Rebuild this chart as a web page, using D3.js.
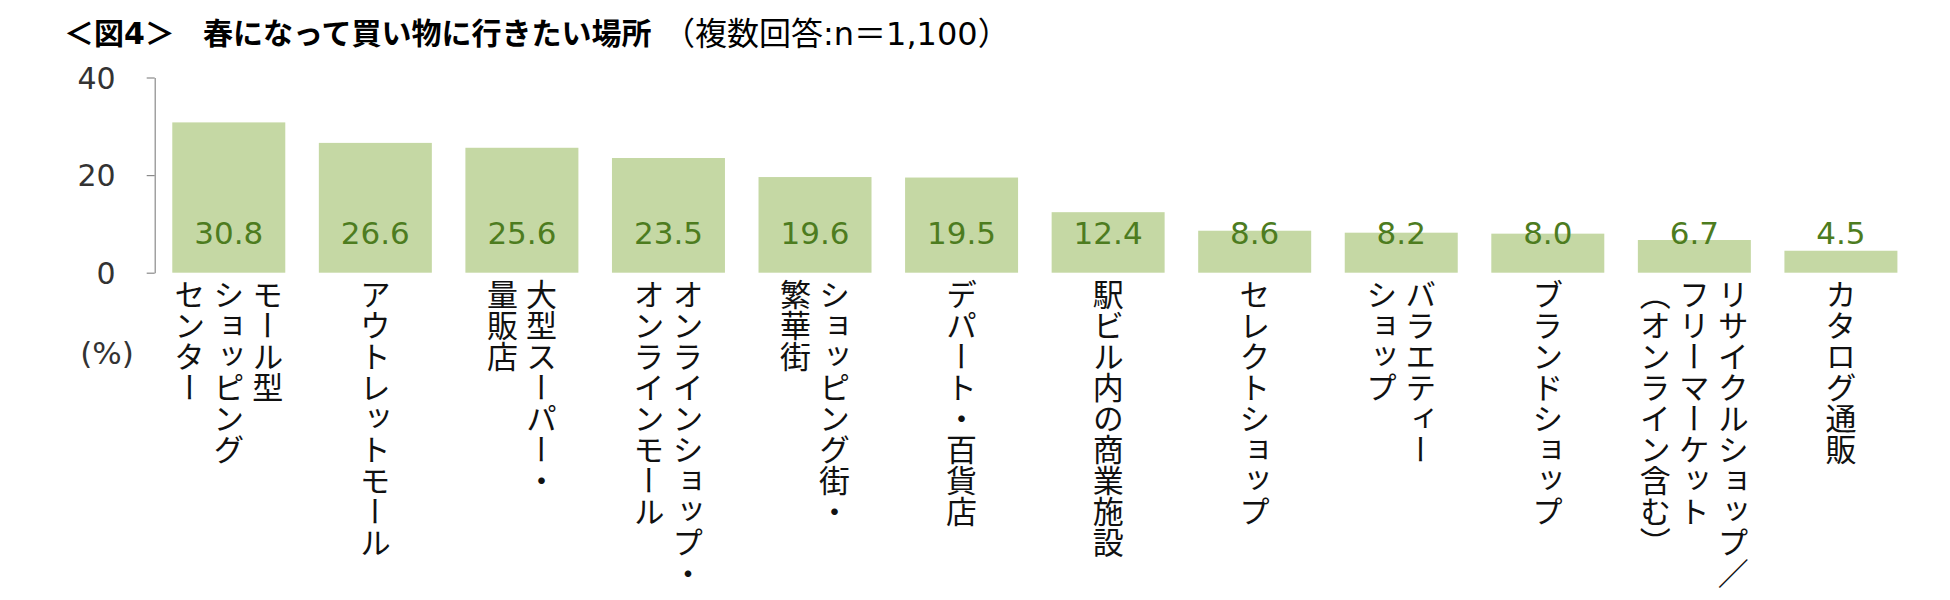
<!DOCTYPE html>
<html>
<head>
<meta charset="utf-8">
<script src="https://cdn.jsdelivr.net/npm/d3@7"></script>
<style>
  html, body { margin: 0; padding: 0; background: #fff; }
  svg { display: block; }
</style>
</head>
<body>
<svg id="chart" width="1950" height="600"></svg>
<script>
// --------------------------
// DATA
// --------------------------
const categories = [
    "モール型\nショッピング\nセンター",
    "アウトレットモール",
    "大型スーパー・\n量販店",
    "オンラインショップ・\nオンラインモール",
    "ショッピング街・\n繁華街",
    "デパート・百貨店",
    "駅ビル内の商業施設",
    "セレクトショップ",
    "バラエティー\nショップ",
    "ブランドショップ",
    "リサイクルショップ／\nフリーマーケット\n（オンライン含む）",
    "カタログ通販"
];
const values = [30.8, 26.6, 25.6, 23.5, 19.6, 19.5, 12.4, 8.6, 8.2, 8.0, 6.7, 4.5];
const yTicks = [0, 20, 40];
const titleBold1 = "＜図4＞";
const titleBold2 = "春になって買い物に行きたい場所";
const titleNote = "（複数回答:n＝1,100）";
const unitLabel = "(%)";

// --------------------------
// CHART
// --------------------------
const svg = d3.select("#chart");

const jpFont = "'Noto Sans CJK JP', 'Noto Sans', sans-serif";
const numFont = "'DejaVu Sans', Verdana, sans-serif";
const mixFont = "'DejaVu Sans', 'Noto Sans CJK JP', sans-serif";

const x = d3.scaleBand()
    .domain(d3.range(categories.length))
    .range([154.7, 1915])
    .paddingInner(0.229)
    .paddingOuter(0.12);

const y = d3.scaleLinear()
    .domain([0, 40])
    .range([272.7, 77.5]);

// Title
const title = svg.append("g").attr("font-family", mixFont).attr("fill", "#000");
title.append("text").attr("x", 64).attr("y", 44).attr("font-size", 30).attr("font-weight", 700).text(titleBold1);
title.append("text").attr("x", 203).attr("y", 44).attr("font-size", 30).attr("font-weight", 700)
    .attr("font-family", jpFont).text(titleBold2);
title.append("text").attr("x", 663).attr("y", 45).attr("font-size", 32).text(titleNote);

// Bars
svg.append("g")
    .selectAll("rect")
    .data(values)
    .enter()
    .append("rect")
    .attr("x", (d, i) => x(i))
    .attr("y", d => y(d))
    .attr("width", x.bandwidth())
    .attr("height", d => y(0) - y(d))
    .attr("fill", "#c5d8a4");

// Y axis
const yAxis = svg.append("g")
    .attr("transform", `translate(${x.range()[0]},0)`)
    .call(d3.axisLeft(y).tickValues(yTicks).tickSize(8).tickSizeOuter(0).tickPadding(31));
yAxis.select(".domain").attr("stroke", "#8a8a8a").attr("stroke-width", 1.2);
yAxis.selectAll(".tick line").attr("stroke", "#8a8a8a").attr("stroke-width", 1.2);
yAxis.selectAll(".tick text")
    .attr("font-family", numFont)
    .attr("font-size", 30)
    .attr("fill", "#333")
    .attr("dy", "0.36em");

svg.append("text")
    .attr("x", 107)
    .attr("y", 364)
    .attr("text-anchor", "middle")
    .attr("font-family", numFont)
    .attr("font-size", 31)
    .attr("fill", "#333")
    .text(unitLabel);

// Value labels
svg.append("g")
    .selectAll("text")
    .data(values)
    .enter()
    .append("text")
    .attr("x", (d, i) => x(i) + x.bandwidth() / 2)
    .attr("y", y(0) - 28.5)
    .attr("text-anchor", "middle")
    .attr("font-family", numFont)
    .attr("font-size", 31)
    .attr("fill", "#4d7c1f")
    .text(d => d3.format(".1f")(d));

// Category labels (vertical, columns right to left)
const lineGap = 39;
const catG = svg.append("g")
    .attr("font-family", jpFont)
    .attr("font-size", 31)
    .attr("fill", "#111");

categories.forEach((c, i) => {
    const lines = c.split("\n");
    const cx = x(i) + x.bandwidth() / 2;
    lines.forEach((line, j) => {
        catG.append("text")
            .attr("x", cx + ((lines.length - 1) / 2 - j) * lineGap)
            .attr("y", y(0) + 6)
            .style("writing-mode", "vertical-rl")
            .attr("text-anchor", "start")
            .text(line);
    });
});
</script>
</body>
</html>
